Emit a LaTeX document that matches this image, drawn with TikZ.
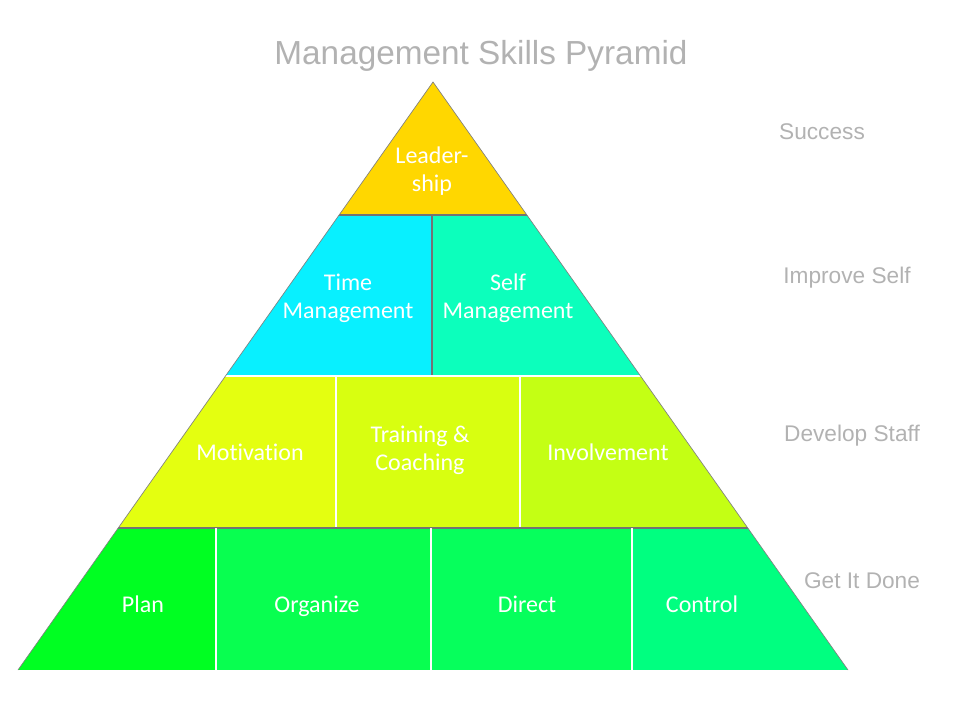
\documentclass[tikz,border=0pt]{standalone}
\usepackage{fontspec}
\setmainfont[Ligatures=NoCommon]{Carlito}
\newfontfamily\titlefont{Liberation Sans}
\usetikzlibrary{positioning}

\definecolor{leadcol}{RGB}{255,215,0}
\definecolor{timecol}{RGB}{8,240,255}
\definecolor{selfcol}{RGB}{12,255,188}
\definecolor{motcol}{RGB}{228,255,16}
\definecolor{traincol}{RGB}{216,255,16}
\definecolor{invcol}{RGB}{196,255,20}
\definecolor{plancol}{RGB}{0,255,34}
\definecolor{orgcol}{RGB}{8,255,80}
\definecolor{dircol}{RGB}{6,255,92}
\definecolor{ctrlcol}{RGB}{0,255,128}

\tikzset{
 cell/.style = {font=\fontsize{18}{21}\selectfont, text=white, align=center},
 oneline/.style = {cell, text height=1.5ex, text depth=0.45ex},
 side/.style = {font=\titlefont\fontsize{17}{20}\selectfont, text=black!30},
 sep/.style = {white, line width=0.9pt},
 darksep/.style = {black!55, line width=0.9pt}
}

\begin{document}
\begin{tikzpicture}[x=0.75pt, y=-0.75pt]
 \useasboundingbox (0,0) rectangle (960,720);

 % pyramid corners
 \coordinate (top) at (433,82);
 \coordinate (bl) at (18,670);
 \coordinate (br) at (848,670);

 % tiers, clipped to the triangle
 \begin{scope}
  \clip (top) -- (bl) -- (br) -- cycle;
  \fill [leadcol] (0,82) rectangle (960,215);
  \fill [timecol] (0,215) rectangle (432,376);
  \fill [selfcol] (432,215) rectangle (960,376);
  \fill [motcol] (0,376) rectangle (336,528);
  \fill [traincol] (336,376) rectangle (520,528);
  \fill [invcol] (520,376) rectangle (960,528);
  \fill [plancol] (0,528) rectangle (216,670);
  \fill [orgcol] (216,528) rectangle (431,670);
  \fill [dircol] (431,528) rectangle (632,670);
  \fill [ctrlcol] (632,528) rectangle (960,670);

  % separators
  \draw [darksep] (0,215) -- (960,215);
  \draw [darksep] (432,215) -- (432,376);
  \draw [sep] (0,376) -- (960,376);
  \draw [sep] (336,376) -- (336,528);
  \draw [sep] (520,376) -- (520,528);
  \draw [darksep] (0,528) -- (960,528);
  \draw [sep] (216,528) -- (216,670);
  \draw [sep] (431,528) -- (431,670);
  \draw [sep] (632,528) -- (632,670);
 \end{scope}
 \draw [black!50, line width=0.5pt] (bl) -- (top) -- (br);

 % title
 \node [font=\titlefont\fontsize{25}{30}\selectfont, text=black!30] (title) at (481,56) {Management Skills Pyramid};

 % tier labels
 \node [cell] (lead) at (432,171) {Leader-\\ship};
 \node [cell] (time) at (348,298) {Time\\Management};
 \node [cell] (self) at (508,298) {Self\\Management};
 \node [oneline] (mot) at (250,457) {Motivation};
 \node [cell] (train) at (420,450) {Training \&\\Coaching};
 \node [oneline] (inv) at (608,457) {Involvement};
 \node [oneline] (plan) at (143,609) {Plan};
 \node [oneline] (org) at (317,609) {Organize};
 \node [oneline] (dir) at (527,609) {Direct};
 \node [oneline] (ctrl) at (702,609) {Control};

 % side labels
 \node [side] (success) at (822,132) {Success};
 \node [side] (improve) at (847,278) {Improve Self};
 \node [side] (develop) at (852,436) {Develop Staff};
 \node [side] (getdone) at (862,581) {Get It Done};

\end{tikzpicture}
\end{document}
